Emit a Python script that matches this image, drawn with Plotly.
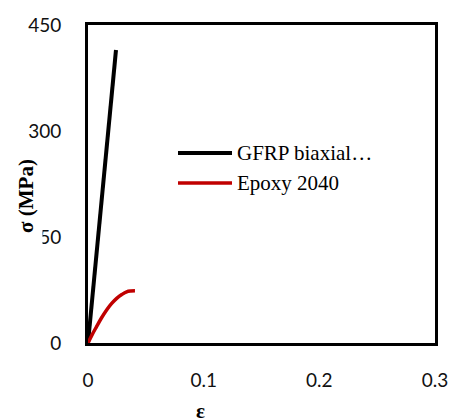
import plotly.graph_objects as go

# Data
gfrp_strain = [0.0, 0.0242]
gfrp_stress = [0.0, 414.6]
epoxy_strain = [0.0, 0.0036, 0.0072, 0.0115, 0.0161, 0.0205, 0.0248, 0.0292, 0.0334, 0.0370, 0.0406]
epoxy_stress = [0.0, 11.8, 22.6, 35.0, 46.7, 56.0, 63.2, 68.6, 72.5, 73.6, 73.9]
series_names = ["GFRP biaxial…", "Epoxy 2040"]
x_ticks = [0, 0.1, 0.2, 0.3]
x_tick_labels = ["0", "0.1", "0.2", "0.3"]
y_ticks = [0, 150, 300, 450]
y_tick_labels = ["0", "150", "300", "450"]

W, H = 451, 418
L, R, T, B = 88, 16, 25, 75
pw, ph = W - L - R, H - T - B

def px(x):
    return (x - L) / pw

def py(y):
    return (H - B - y) / ph

fig = go.Figure()
fig.add_trace(go.Scatter(x=gfrp_strain, y=gfrp_stress, mode="lines", name=series_names[0],
                         line=dict(color="black", width=4), showlegend=False))
fig.add_trace(go.Scatter(x=epoxy_strain, y=epoxy_stress, mode="lines", name=series_names[1],
                         line=dict(color="#C00000", width=3.5, shape="spline"), showlegend=False))

# manual legend
leg_cols = ["black", "#C00000"]
leg_w = [4, 3.5]
leg_y = [153, 183]
for name, c, w, yy in zip(series_names, leg_cols, leg_w, leg_y):
    fig.add_shape(type="line", xref="paper", yref="paper", x0=px(178), x1=px(232),
                  y0=py(yy), y1=py(yy), line=dict(color=c, width=w))
    fig.add_annotation(xref="paper", yref="paper", x=px(235), y=py(yy), text=name,
                       showarrow=False, xanchor="left", yanchor="middle",
                       font=dict(family="Liberation Serif", size=21, color="black"))

# y title with white box (overlapping the tick label as in reference)
fig.add_annotation(xref="paper", yref="paper", x=px(26), y=py(196), text="<b>σ (MPa)</b>",
                   textangle=-90, showarrow=False, xanchor="center", yanchor="middle",
                   width=98, height=28, bgcolor="white", borderpad=2,
                   font=dict(family="Liberation Serif", size=21, color="black"))
# x title
fig.add_annotation(xref="paper", yref="paper", x=px(200), y=py(411), text="<b>ε</b>",
                   showarrow=False, xanchor="center", yanchor="middle",
                   font=dict(family="Liberation Serif", size=21, color="black"))

fig.update_layout(
    width=W, height=H,
    margin=dict(l=L, r=R, t=T, b=B, autoexpand=False),
    paper_bgcolor="white", plot_bgcolor="white",
    font=dict(family="Lato", size=19, color="#111"),
)
fig.update_xaxes(range=[0, 0.3], tickvals=x_ticks, ticktext=x_tick_labels, showgrid=False,
                 zeroline=False, showline=True, linecolor="black", linewidth=3, mirror=True,
                 ticks="", ticklabelstandoff=18, automargin=False)
fig.update_yaxes(range=[0, 450], tickvals=y_ticks, ticktext=y_tick_labels, showgrid=False,
                 zeroline=False, showline=True, linecolor="black", linewidth=3, mirror=True,
                 ticks="", ticklabelstandoff=20, automargin=False)

fig.write_html("out.html", config={"displayModeBar": False},
               post_script="document.body.style.margin='0px';")
